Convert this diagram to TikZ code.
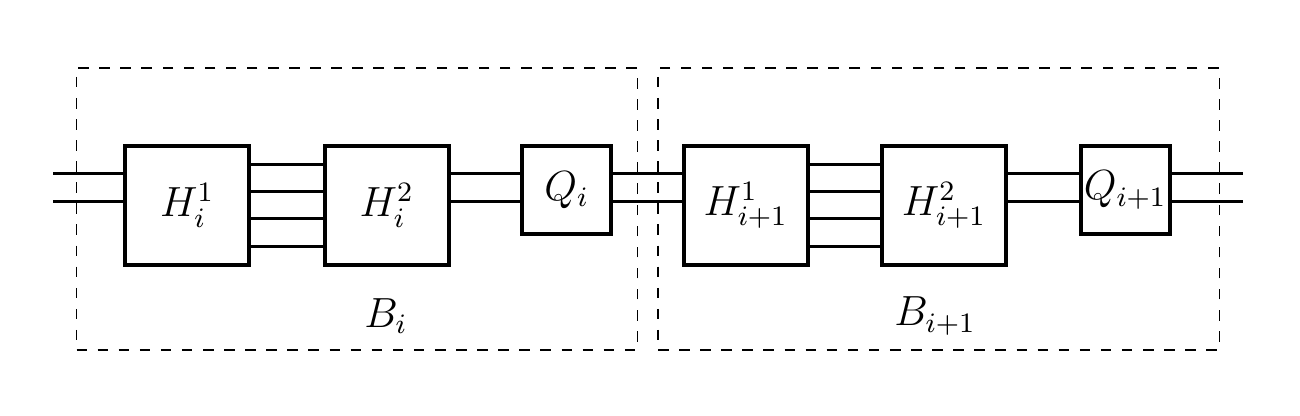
\documentclass[tikz,border=0pt]{standalone}
\usepackage{amsmath}
\usepackage{tikz}
\usetikzlibrary{arrows.meta, calc, positioning}

\begin{document}
\begin{tikzpicture}[x=1cm, y=1cm,
            hblock/.style={rectangle, draw, line width=1.1pt, minimum width=1.24cm, minimum height=1.19cm, inner sep=0pt, font=\large},
            qblock/.style={rectangle, draw, line width=1.1pt, minimum width=0.89cm, minimum height=0.88cm, inner sep=0pt, font=\large},
            stage/.style={rectangle, draw, dashed, line width=0.3pt, minimum width=5.61cm, minimum height=2.82cm, inner sep=0pt},
            wire/.style={line width=0.9pt},
            inv/.style={font=\large}
        ]
        \useasboundingbox (0,0) rectangle (13,-4.15);

        % Stage boxes
        \node[stage] (stageA) at (3.57,-2.09) {};
        \node[stage] (stageB) at (9.385,-2.09) {};
        \node[inv] (labA) at (3.86,-3.16) {$B_i$};
        \node[inv] (labB) at (9.35,-3.16) {$B_{i+1}$};

        % Blocks
        \node[hblock] (hA1) at (1.873,-2.053) {$H_i^1$};
        \node[hblock] (hA2) at (3.867,-2.053) {$H_i^2$};
        \node[qblock] (qA) at (5.667,-1.90) {$Q_i$};
        \node[hblock] (hB1) at (7.457,-2.053) {$H_{i+1}^1$};
        \node[hblock] (hB2) at (9.44,-2.053) {$H_{i+1}^2$};
        \node[qblock] (qB) at (11.252,-1.90) {$Q_{i+1}$};

        % Wire levels and free ends
        \coordinate (up) at (0,-1.733);
        \coordinate (dn) at (0,-2.017);
        \coordinate (inUp) at (0.533,-1.733);
        \coordinate (inDn) at (0.533,-2.017);
        \coordinate (outUp) at (12.427,-1.733);
        \coordinate (outDn) at (12.427,-2.017);

        % Wires
        \draw[wire] (inUp) -- (hA1.west |- up);
        \draw[wire] (inDn) -- (hA1.west |- dn);
        \foreach \lvl in {-1.648,-1.913,-2.187,-2.462} {
            \draw[wire] (hA1.east |- 0,\lvl) -- (hA2.west |- 0,\lvl);
            \draw[wire] (hB1.east |- 0,\lvl) -- (hB2.west |- 0,\lvl);
        }
        \draw[wire] (hA2.east |- up) -- (qA.west |- up);
        \draw[wire] (hA2.east |- dn) -- (qA.west |- dn);
        \draw[wire] (qA.east |- up) -- (hB1.west |- up);
        \draw[wire] (qA.east |- dn) -- (hB1.west |- dn);
        \draw[wire] (hB2.east |- up) -- (qB.west |- up);
        \draw[wire] (hB2.east |- dn) -- (qB.west |- dn);
        \draw[wire] (qB.east |- up) -- (outUp);
        \draw[wire] (qB.east |- dn) -- (outDn);

    \end{tikzpicture}
\end{document}
